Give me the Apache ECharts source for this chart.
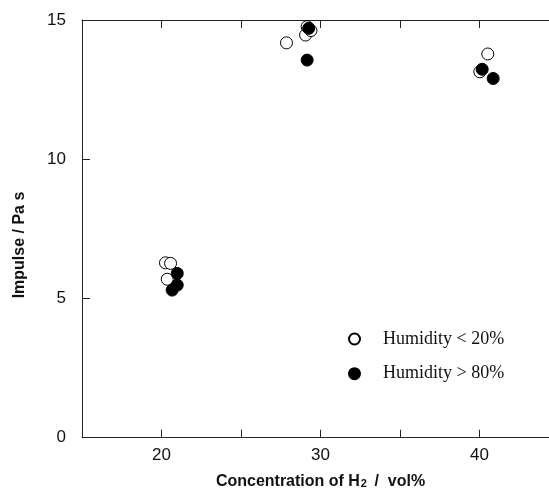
<!DOCTYPE html>
<html>
<head>
<meta charset="utf-8">
<script src="https://cdn.jsdelivr.net/npm/echarts@6/dist/echarts.min.js"></script>
<style>
  html, body { margin: 0; padding: 0; background: #fff; }
  #main { width: 549px; height: 493px; }
</style>
</head>
<body>
<div id="main"></div>
<script>
// values: [H2 vol%, impulse Pa s]
var lowHumidity = [
    [20.25, 6.28], [20.57, 6.26], [20.36, 5.69],
    [27.86, 14.18], [29.06, 14.46], [29.16, 14.76], [29.4, 14.62],
    [40.52, 13.78], [40.02, 13.14]
];
var highHumidity = [
    [20.99, 5.90], [20.99, 5.48], [20.67, 5.30],
    [29.26, 14.70], [29.16, 13.56],
    [40.17, 13.23], [40.86, 12.9]
];
var seriesNames = ['Humidity < 20%', 'Humidity > 80%'];
var xTicks = [15, 45, 5];   // min, max, interval
var yTicks = [0, 15, 5];

var axisColor = '#222';

var myChart = echarts.init(document.getElementById('main'));

var option = {
    animation: false,
    // plot box runs past the right edge of the picture, so let it
    grid: { left: 82, top: 20, width: 477, bottom: 55.3, outerBoundsMode: 'none', containLabel: false },
    legend: {
        orient: 'vertical',
        left: 343,
        top: 325,
        itemWidth: 47,
        itemHeight: 11,
        itemGap: 16.7,
        icon: 'circle',
        textStyle: { fontFamily: 'Liberation Serif', fontSize: 18, lineHeight: 18, color: '#111' },
        data: seriesNames
    },
    xAxis: [{
        type: 'value',
        min: xTicks[0], max: xTicks[1], interval: xTicks[2],
        axisLine: { lineStyle: { color: axisColor, width: 1 } },
        axisTick: { inside: true, length: 8, lineStyle: { color: axisColor } },
        splitLine: { show: false },
        axisLabel: {
            margin: 9,
            fontFamily: 'Liberation Sans', fontSize: 17, color: '#111',
            formatter: function (v) { return (v % 10 === 0) ? v : ''; }
        },
        name: '{a|Concentration of H}{s|2}{a| /  vol%}',
        nameLocation: 'middle',
        nameGap: 36,
        nameTextStyle: {
            rich: {
                a: { fontFamily: 'Liberation Sans', fontSize: 16, fontWeight: 'bold', color: '#111', verticalAlign: 'bottom' },
                s: { fontFamily: 'Liberation Sans', fontSize: 11, fontWeight: 'bold', color: '#111', verticalAlign: 'bottom', padding: [0, 3, 0, 1] }
            }
        }
    }, {
        type: 'value',
        position: 'top',
        min: xTicks[0], max: xTicks[1], interval: xTicks[2],
        axisLine: { lineStyle: { color: axisColor, width: 1 } },
        axisTick: { inside: true, length: 8, lineStyle: { color: axisColor } },
        axisLabel: { show: false },
        splitLine: { show: false }
    }],
    yAxis: {
        type: 'value',
        min: yTicks[0], max: yTicks[1], interval: yTicks[2],
        axisLine: { show: true, lineStyle: { color: axisColor, width: 1 } },
        axisTick: { show: true, inside: true, length: 8, lineStyle: { color: axisColor } },
        splitLine: { show: false },
        axisLabel: { margin: 16, fontFamily: 'Liberation Sans', fontSize: 17, color: '#111' }
    },
    graphic: [{
        type: 'text',
        x: 20, y: 245,
        rotation: Math.PI / 2,
        style: {
            text: 'Impulse / Pa s',
            fontFamily: 'Liberation Sans', fontSize: 16, fontWeight: 'bold',
            fill: '#111', align: 'center', verticalAlign: 'middle'
        }
    }],
    series: [{
        name: seriesNames[0],
        type: 'scatter',
        xAxisIndex: 0,
        data: lowHumidity,
        symbol: 'circle',
        symbolSize: 12,
        itemStyle: { color: '#fff', borderColor: '#000', borderWidth: 1, opacity: 1 },
        z: 2
    }, {
        name: seriesNames[1],
        type: 'scatter',
        xAxisIndex: 0,
        data: highHumidity,
        symbol: 'circle',
        symbolSize: 12,
        itemStyle: { color: '#000', borderColor: '#000', borderWidth: 1, opacity: 1 },
        z: 3
    }]
};

myChart.setOption(option);
</script>
</body>
</html>
